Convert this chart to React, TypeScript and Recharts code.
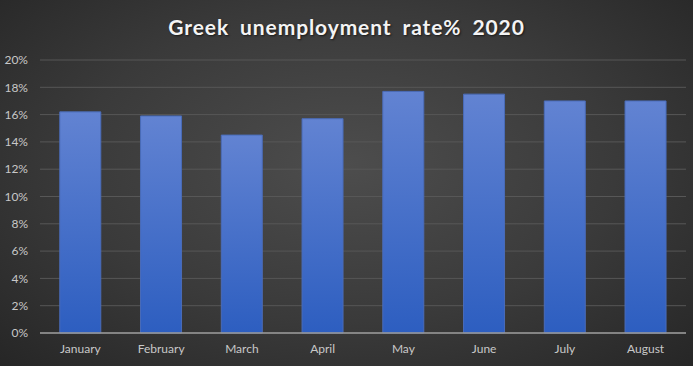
import { BarChart, Bar, XAxis, YAxis, CartesianGrid } from "recharts";

const months = ["January", "February", "March", "April", "May", "June", "July", "August"];
const rates = [16.2, 15.9, 14.5, 15.7, 17.7, 17.5, 17.0, 17.0];
const yTicks = [0, 2, 4, 6, 8, 10, 12, 14, 16, 18, 20];

const data = months.map((m, i) => ({ month: m, rate: rates[i] }));

const font = "Lato, 'Open Sans', sans-serif";

export default function App() {
  return (
    <div
      style={{
        position: "absolute",
        left: 0,
        top: 0,
        width: 693,
        height: 366,
        background: "radial-gradient(ellipse at 50% 45%, #4d4d4d 0%, #3a3a3a 55%, #262626 100%)",
        fontFamily: font,
      }}
    >
      <div
        style={{
          position: "absolute",
          top: 14,
          left: 0,
          width: 693,
          textAlign: "center",
          color: "#f4f4f4",
          fontSize: 21,
          fontWeight: 700,
          letterSpacing: 0.9,
          wordSpacing: 5,
          textShadow: "1px 1px 2px rgba(0,0,0,0.6)",
        }}
      >
        Greek unemployment rate% 2020
      </div>
      <BarChart
        width={693}
        height={366}
        data={data}
        margin={{ top: 60, right: 7, left: 0, bottom: 0 }}
        barCategoryGap="24.5%"
      >
        <defs>
          <linearGradient id="barFill" x1="0" y1="0" x2="0" y2="1">
            <stop offset="0%" stopColor="#6283d2" />
            <stop offset="100%" stopColor="#2d5ec0" />
          </linearGradient>
        </defs>
        <CartesianGrid stroke="#575757" vertical={false} />
        <XAxis
          dataKey="month"
          height={33}
          tickLine={false}
          axisLine={{ stroke: "#9a9a9a", strokeWidth: 1.5 }}
          tick={{ fill: "#c8c8c8", fontSize: 12, fontFamily: font }}
          tickMargin={5}
        />
        <YAxis
          width={40}
          domain={[0, 20]}
          ticks={yTicks}
          tickLine={false}
          axisLine={false}
          tick={{ fill: "#c8c8c8", fontSize: 12, fontFamily: font }}
          tickFormatter={(v: number) => `${v}%`}
          tickMargin={6}
        />
        <Bar
          dataKey="rate"
          fill="url(#barFill)"
          stroke="#4a6cb8"
          strokeWidth={1}
          isAnimationActive={false}
        />
      </BarChart>
    </div>
  );
}
